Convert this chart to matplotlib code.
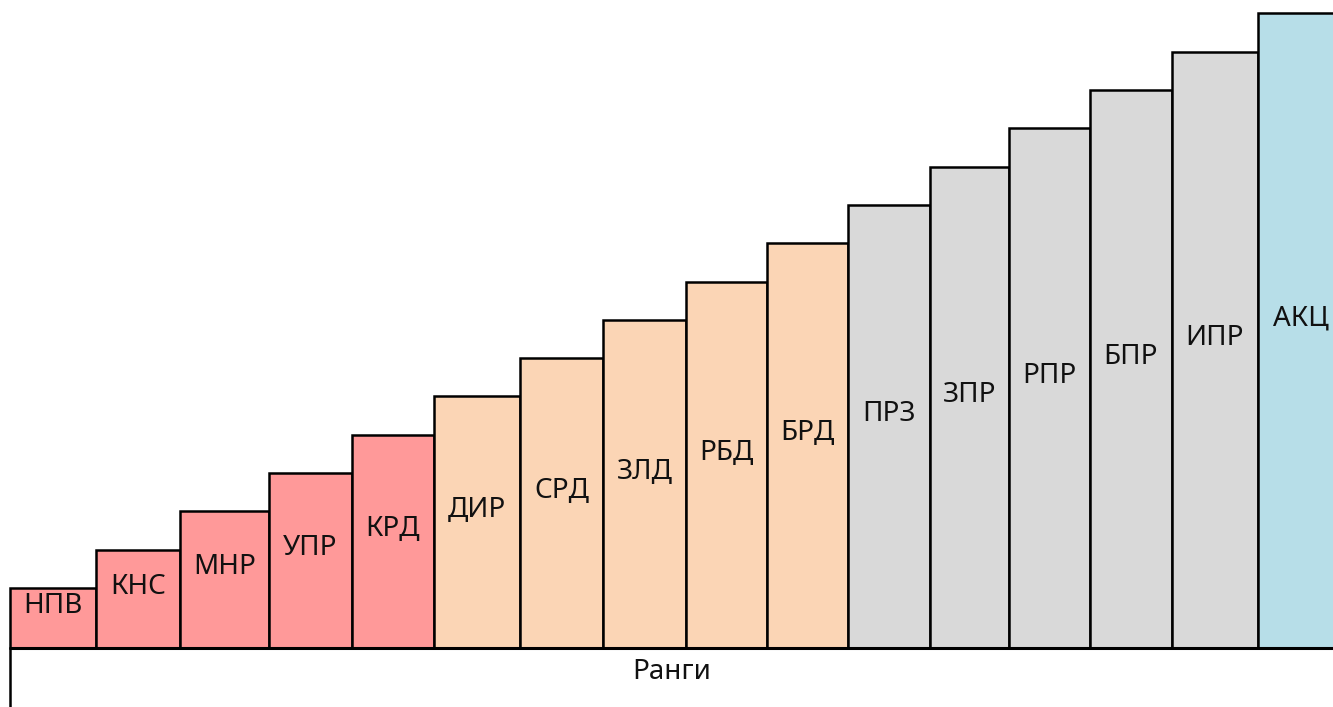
import matplotlib.pyplot as plt

# ranks, from lowest to highest
labels = ['НПВ', 'КНС', 'МНР', 'УПР', 'КРД', 'ДИР', 'СРД', 'ЗЛД', 'РБД', 'БРД',
          'ПРЗ', 'ЗПР', 'РПР', 'БПР', 'ИПР', 'АКЦ']
values = [1, 2, 3, 4, 5, 6, 7, 8, 9, 10, 11, 12, 13, 14, 15, 16]
widths = [86, 84, 89, 83, 82, 86, 83, 83, 81, 81, 82, 79, 81, 82, 86, 86]
groups = ['red'] * 5 + ['peach'] * 5 + ['grey'] * 5 + ['blue']

colors = {'red': '#FF9999', 'peach': '#FBD5B5', 'grey': '#D9D9D9', 'blue': '#B7DEE8'}

plt.rcParams['font.family'] = ['Noto Sans', 'DejaVu Sans']

fig = plt.figure(figsize=(13.33, 7.07), dpi=100)
ax = fig.add_axes([0, 0, 1, 1])

base = -0.567
step_px = 38.3
x0 = 10

lefts = []
x = x0
for w in widths:
    lefts.append(x)
    x += w

for left, w, v, g, lab in zip(lefts, widths, values, groups, labels):
    ax.bar(left, v - base, width=w, bottom=base, align='edge',
           color=colors[g], edgecolor='black', linewidth=1.8, zorder=2)
    ax.text(left + w / 2, base + (v - base) / 2 + 0.32, lab,
            ha='center', va='center', fontsize=20, color='#111111', zorder=3)

ax.set_xlim(0, 1333)
ax.set_ylim(base - 59 / step_px, base + 648 / step_px)

for s in ['top', 'right', 'bottom']:
    ax.spines[s].set_visible(False)
ax.spines['left'].set_position(('data', x0))
ax.spines['left'].set_linewidth(1.8)
ax.spines['left'].set_bounds(base - 59 / step_px, base)
ax.hlines(base, x0, 1333, color='black', linewidth=2.2, zorder=4)
ax.set_xticks([])
ax.set_yticks([])
ax.patch.set_visible(False)

ax.text((x0 + 1333) / 2, base - 0.62, 'Ранги', ha='center', va='center',
        fontsize=20, color='#111111')

fig.savefig('out.png', dpi=100)
